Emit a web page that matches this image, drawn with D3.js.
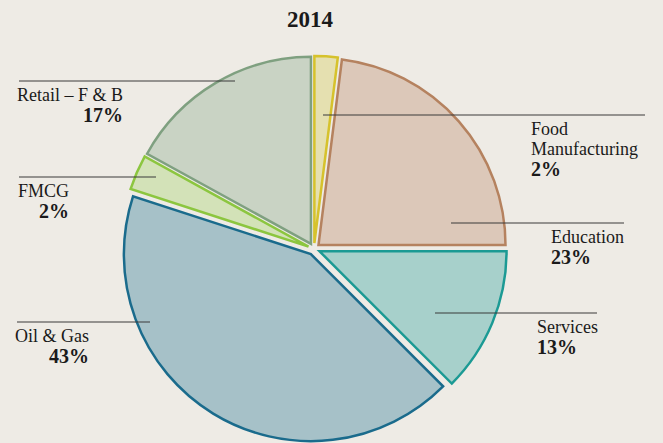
<!DOCTYPE html>
<html>
<head>
<meta charset="utf-8">
<script src="https://cdn.jsdelivr.net/npm/d3@7/dist/d3.min.js"></script>
<style>
  body { margin: 0; background: #eeebe5; }
  svg { display: block; }
  text { font-family: "Liberation Serif", "DejaVu Serif", serif; fill: #1a1a1a; }
</style>
</head>
<body>
<svg id="chart"></svg>
<script>
// data
const title = "2014";
const sectors = ["Food Manufacturing", "Education", "Services", "Oil & Gas", "FMCG", "Retail – F & B"];
const shares = [2, 23, 12.5, 42.5, 3, 17];          // slice sizes as drawn
const percentLabels = ["2%", "23%", "13%", "43%", "2%", "17%"];
const nameLines = [["Food", "Manufacturing"], ["Education"], ["Services"], ["Oil & Gas"], ["FMCG"], ["Retail – F & B"]];

const fills   = ["#e5e0b0", "#dcc8b9", "#a7d0cb", "#a6c1c8", "#d3e2b8", "#c9d3c4"];
const strokes = ["#d6c22c", "#b5825f", "#1b9a94", "#1a6b8c", "#8cc63f", "#7fa080"];

// label placement (layout only): leader line y, x from/to, text x, side
const labelLayout = [
  { y: 115, x1: 323, x2: 645, tx: 531, side: "right" },
  { y: 223, x1: 451, x2: 624, tx: 551, side: "right" },
  { y: 313, x1: 435, x2: 597, tx: 537, side: "right" },
  { y: 322, x1: 17,  x2: 150, tx: 15,  side: "left" },
  { y: 177, x1: 19,  x2: 156, tx: 18,  side: "left" },
  { y: 81,  x1: 19,  x2: 235, tx: 17,  side: "left" }
];

const width = 663, height = 443;
const cx = 314, cy = 249, radius = 187, explode = 6;

const svg = d3.select("#chart")
  .attr("width", width)
  .attr("height", height);

svg.append("rect").attr("width", width).attr("height", height).attr("fill", "#eeebe5");

svg.append("text")
  .attr("x", 310)
  .attr("y", 27)
  .attr("text-anchor", "middle")
  .style("font-size", "23px")
  .style("font-weight", "bold")
  .text(title);

const pie = d3.pie().sort(null).value(d => d);
const arcs = pie(shares);
const arc = d3.arc().innerRadius(0).outerRadius(radius);

const g = svg.append("g").attr("transform", "translate(" + cx + "," + cy + ")");

g.selectAll("path.slice")
  .data(arcs)
  .enter().append("path")
  .attr("class", "slice")
  .attr("d", arc)
  .attr("transform", d => {
    const a = (d.startAngle + d.endAngle) / 2;
    return "translate(" + (Math.sin(a) * explode) + "," + (-Math.cos(a) * explode) + ")";
  })
  .attr("fill", (d, i) => fills[i])
  .attr("stroke", (d, i) => strokes[i])
  .attr("stroke-width", 2.5)
  .attr("stroke-linejoin", "miter");

// leader lines
svg.selectAll("line.leader")
  .data(labelLayout)
  .enter().append("line")
  .attr("class", "leader")
  .attr("x1", d => d.x1).attr("x2", d => d.x2)
  .attr("y1", d => d.y).attr("y2", d => d.y)
  .attr("stroke", "#3a3a3a")
  .attr("stroke-width", 1.1);

// labels
labelLayout.forEach((l, i) => {
  const lines = nameLines[i];
  let lastWidth = 0;
  lines.forEach((s, k) => {
    const t = svg.append("text")
      .attr("x", l.tx)
      .attr("y", l.y + 20 + k * 20)
      .style("font-size", "18px")
      .text(s);
    lastWidth = t.node().getComputedTextLength();
  });
  const py = l.y + 20 + lines.length * 20 + 1;
  svg.append("text")
    .attr("x", l.side === "left" ? l.tx + lastWidth : l.tx)
    .attr("y", py)
    .attr("text-anchor", l.side === "left" ? "end" : "start")
    .style("font-size", "20px")
    .style("font-weight", "bold")
    .text(percentLabels[i]);
});
</script>
</body>
</html>
